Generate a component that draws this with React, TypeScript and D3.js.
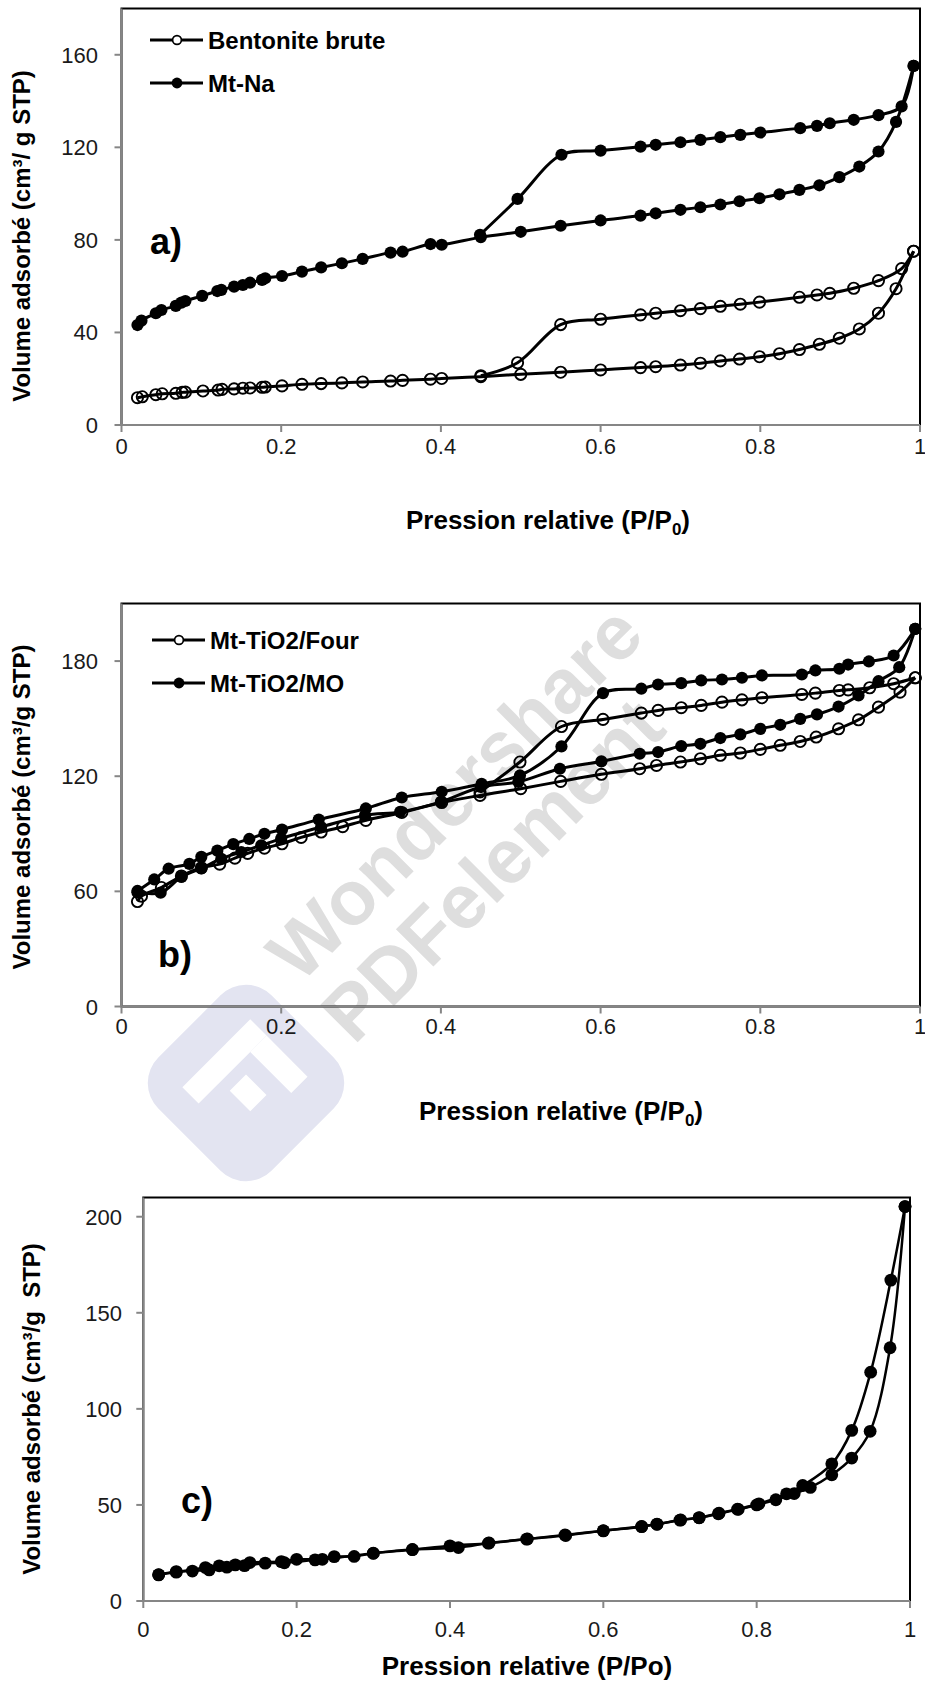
import React from 'react';
import * as d3 from 'd3';

type Pt = [number, number];

// ---------- tick values / labels ----------
const xTickValues = [0, 0.2, 0.4, 0.6, 0.8, 1];
const xTickLabels = ['0', '0.2', '0.4', '0.6', '0.8', '1'];
const yTicksA = [0, 40, 80, 120, 160];
const yTicksB = [0, 60, 120, 180];
const yTicksC = [0, 50, 100, 150, 200];

// ---------- panel a ----------
const bentoniteAds: Pt[] = [
  [0.020, 11.8], [0.026, 12.2], [0.043, 13.1], [0.051, 13.5], [0.068, 13.7], [0.076, 14.1], [0.080, 14.2],
  [0.102, 14.7], [0.121, 15.1], [0.126, 15.4], [0.141, 15.6], [0.152, 15.9], [0.161, 16.0], [0.176, 16.3],
  [0.180, 16.4], [0.201, 16.9], [0.226, 17.6], [0.250, 17.9], [0.276, 18.2], [0.302, 18.6], [0.337, 19.0],
  [0.352, 19.3], [0.387, 19.8], [0.401, 20.1], [0.450, 20.9], [0.500, 21.9], [0.550, 22.8], [0.600, 23.8],
  [0.650, 24.8], [0.669, 25.2], [0.700, 25.9], [0.725, 26.7], [0.750, 27.7], [0.774, 28.5], [0.799, 29.5],
  [0.824, 30.8], [0.849, 32.6], [0.874, 34.9], [0.899, 37.5], [0.924, 41.5], [0.948, 48.3], [0.970, 58.9],
  [0.992, 75.1],
];
const bentoniteDes: Pt[] = [
  [0.992, 75.1], [0.977, 67.6], [0.948, 62.4], [0.917, 59.1], [0.887, 56.9], [0.871, 56.2], [0.849, 55.2],
  [0.799, 53.1], [0.775, 52.2], [0.750, 51.3], [0.725, 50.3], [0.700, 49.4], [0.669, 48.3], [0.650, 47.6],
  [0.600, 45.7], [0.550, 43.4], [0.496, 26.9], [0.450, 21.3],
];
const mtNaAds: Pt[] = [
  [0.020, 43.2], [0.025, 45.1], [0.043, 48.3], [0.050, 49.7], [0.068, 51.5], [0.075, 52.9], [0.080, 53.6],
  [0.101, 55.8], [0.120, 57.9], [0.125, 58.4], [0.141, 59.8], [0.152, 60.5], [0.161, 61.5], [0.176, 62.7],
  [0.180, 63.4], [0.201, 64.4], [0.226, 66.3], [0.250, 68.1], [0.276, 69.9], [0.302, 71.8], [0.337, 74.5],
  [0.352, 74.9], [0.387, 78.2], [0.401, 77.9], [0.450, 81.2], [0.500, 83.5], [0.550, 86.1], [0.600, 88.4],
  [0.650, 90.5], [0.669, 91.5], [0.700, 93.0], [0.725, 94.1], [0.750, 95.3], [0.774, 96.7], [0.799, 98.0],
  [0.824, 99.7], [0.849, 101.6], [0.874, 103.6], [0.899, 107.1], [0.924, 111.7], [0.948, 118.2], [0.970, 131.0],
  [0.992, 155.2],
];
const mtNaDes: Pt[] = [
  [0.992, 155.2], [0.977, 137.7], [0.948, 133.9], [0.917, 131.9], [0.887, 130.4], [0.871, 129.3], [0.850, 128.3],
  [0.800, 126.4], [0.775, 125.4], [0.750, 124.4], [0.725, 123.2], [0.700, 122.2], [0.669, 121.1], [0.650, 120.3],
  [0.600, 118.6], [0.551, 116.8], [0.496, 97.7], [0.449, 82.2],
];

// ---------- panel b ----------
const fourAds: Pt[] = [
  [0.020, 54.7], [0.025, 57.5], [0.050, 62.0], [0.075, 68.0], [0.100, 72.3], [0.123, 74.2], [0.142, 77.3],
  [0.158, 79.8], [0.179, 82.5], [0.201, 84.8], [0.225, 88.1], [0.250, 90.9], [0.277, 93.7], [0.306, 97.0],
  [0.351, 101.1], [0.401, 106.3], [0.449, 110.0], [0.500, 113.5], [0.550, 117.3], [0.601, 121.0], [0.649, 123.9],
  [0.670, 125.6], [0.700, 127.4], [0.725, 129.1], [0.750, 130.9], [0.775, 132.1], [0.800, 134.0], [0.825, 136.1],
  [0.850, 138.1], [0.870, 140.4], [0.898, 144.7], [0.923, 149.4], [0.948, 156.0], [0.975, 163.8], [0.994, 171.3],
];
const fourDes: Pt[] = [
  [0.994, 171.3], [0.967, 168.2], [0.937, 166.1], [0.910, 165.0], [0.899, 164.7], [0.869, 163.3], [0.852, 162.6],
  [0.802, 160.9], [0.777, 159.8], [0.752, 158.6], [0.726, 156.9], [0.701, 155.7], [0.672, 154.3], [0.651, 152.9],
  [0.603, 149.6], [0.551, 145.9], [0.499, 127.4], [0.449, 111.8],
];
const moAds: Pt[] = [
  [0.020, 59.5], [0.049, 59.3], [0.075, 67.5], [0.100, 72.0], [0.125, 77.0], [0.150, 80.5], [0.175, 84.0],
  [0.200, 87.5], [0.250, 93.5], [0.305, 99.6], [0.349, 101.4], [0.400, 106.6], [0.450, 114.4], [0.497, 117.0],
  [0.549, 123.9], [0.601, 127.7], [0.649, 131.7], [0.672, 132.6], [0.701, 135.7], [0.725, 136.9], [0.750, 139.9],
  [0.775, 141.8], [0.800, 144.7], [0.825, 146.8], [0.850, 149.9], [0.871, 152.2], [0.898, 156.3], [0.923, 162.1],
  [0.948, 169.5], [0.974, 176.8], [0.994, 196.8],
];
const moDes: Pt[] = [
  [0.994, 196.8], [0.967, 182.9], [0.936, 179.8], [0.910, 178.2], [0.899, 176.0], [0.869, 175.1], [0.852, 173.0],
  [0.802, 172.5], [0.777, 171.3], [0.752, 170.4], [0.726, 169.9], [0.701, 168.5], [0.672, 167.8], [0.651, 165.6],
  [0.603, 163.3], [0.551, 135.5], [0.499, 120.4], [0.451, 116.0], [0.401, 111.9], [0.351, 108.9], [0.306, 103.2],
  [0.247, 97.4], [0.201, 92.2], [0.179, 90.0], [0.160, 87.3], [0.140, 84.6], [0.120, 81.2], [0.100, 78.0],
  [0.085, 74.3], [0.059, 71.8], [0.041, 66.2], [0.020, 60.2],
];

// ---------- panel c ----------
const cAds: Pt[] = [
  [0.020, 13.6], [0.043, 15.3], [0.064, 15.6], [0.086, 16.2], [0.109, 17.6], [0.132, 18.4], [0.159, 19.7],
  [0.184, 19.9], [0.224, 21.4], [0.249, 23.1], [0.275, 23.2], [0.300, 24.8], [0.351, 26.7], [0.400, 28.7],
  [0.450, 30.1], [0.500, 32.2], [0.550, 34.4], [0.600, 36.6], [0.650, 38.8], [0.670, 39.9], [0.700, 42.1],
  [0.725, 43.3], [0.750, 45.4], [0.776, 47.7], [0.800, 50.0], [0.825, 52.7], [0.849, 55.9], [0.870, 59.1],
  [0.898, 65.7], [0.924, 74.4], [0.948, 88.3], [0.974, 131.8], [0.9935, 205.3],
];
const cDes: Pt[] = [
  [0.9935, 205.3], [0.975, 167.0], [0.9487, 119.1], [0.924, 88.8], [0.898, 71.4], [0.860, 60.1], [0.839, 55.8],
  [0.803, 50.6], [0.775, 47.8], [0.751, 45.7], [0.725, 43.4], [0.701, 42.2], [0.670, 40.0], [0.650, 38.7],
  [0.600, 36.5], [0.551, 34.1], [0.501, 32.3], [0.451, 30.2], [0.411, 27.8], [0.351, 26.8], [0.300, 24.9],
  [0.2335, 21.7], [0.200, 21.7], [0.180, 20.5], [0.139, 20.0], [0.120, 18.8], [0.099, 18.3], [0.081, 17.4],
  [0.043, 15.0], [0.020, 13.7],
];

const FONT = '"Liberation Sans", Arial, Helvetica, sans-serif';

interface Series { ads: Pt[]; des: Pt[]; open: boolean; }
interface PanelProps {
  x0: number; x1: number; y0: number; y1: number; yMax: number; yTicks: number[];
  series: Series[]; lineW: number; r: number; yLabelX: number; xLabelY: number;
}

function Panel(p: PanelProps) {
  const x = d3.scaleLinear().domain([0, 1]).range([p.x0, p.x1]);
  const y = d3.scaleLinear().domain([0, p.yMax]).range([p.y1, p.y0]);
  const line = d3.line<Pt>().x(d => x(d[0])).y(d => y(d[1])).curve(d3.curveCatmullRom.alpha(0.5));
  const axisColor = '#868686';
  return (
    <g>
      <rect x={p.x0} y={p.y0} width={p.x1 - p.x0} height={p.y1 - p.y0} fill="none" stroke="#000" strokeWidth={2} />
      <line x1={p.x0} x2={p.x0} y1={p.y0} y2={p.y1} stroke={axisColor} strokeWidth={2} />
      <line x1={p.x0} x2={p.x1} y1={p.y1} y2={p.y1} stroke={axisColor} strokeWidth={2} />
      {p.yTicks.map(t => (
        <g key={'y' + t}>
          <line x1={p.x0 - 7} x2={p.x0} y1={y(t)} y2={y(t)} stroke={axisColor} strokeWidth={2} />
          <text x={p.yLabelX} y={y(t) + 8} textAnchor="end" fontSize={22} fill="#1a1a1a" fontFamily={FONT}>{t}</text>
        </g>
      ))}
      {xTickValues.map((t, i) => (
        <g key={'x' + t}>
          <line x1={x(t)} x2={x(t)} y1={p.y1} y2={p.y1 + 7} stroke={axisColor} strokeWidth={2} />
          <text x={x(t)} y={p.xLabelY} textAnchor="middle" fontSize={22} fill="#1a1a1a" fontFamily={FONT}>{xTickLabels[i]}</text>
        </g>
      ))}
      {p.series.map((s, si) => (
        <g key={'s' + si}>
          <path d={line(s.ads) || ''} fill="none" stroke="#000" strokeWidth={p.lineW} />
          <path d={line(s.des) || ''} fill="none" stroke="#000" strokeWidth={p.lineW} />
          {s.ads.concat(s.des).map((d, i) => (
            s.open
              ? <circle key={i} cx={x(d[0])} cy={y(d[1])} r={p.r - 0.5} fill="none" stroke="#000" strokeWidth={1.9} />
              : <circle key={i} cx={x(d[0])} cy={y(d[1])} r={p.r} fill="#000" />
          ))}
        </g>
      ))}
    </g>
  );
}

function Legend({ x, y, label, open }: { x: number; y: number; label: string; open: boolean }) {
  return (
    <g>
      <line x1={x} x2={x + 53} y1={y} y2={y} stroke="#000" strokeWidth={3} />
      {open
        ? <circle cx={x + 27} cy={y} r={4.4} fill="#fff" stroke="#000" strokeWidth={1.7} />
        : <circle cx={x + 27} cy={y} r={5.4} fill="#000" />}
      <text x={x + 58} y={y + 8.5} fontSize={24} fontWeight="bold" fontFamily={FONT} fill="#000">{label}</text>
    </g>
  );
}

function XTitle({ cx, y, sub }: { cx: number; y: number; sub: boolean }) {
  return sub ? (
    <text x={cx} y={y} textAnchor="middle" fontSize={26} fontWeight="bold" fontFamily={FONT} fill="#000">
      Pression relative (P/P<tspan fontSize={17} dy={6}>0</tspan><tspan dy={-6}>)</tspan>
    </text>
  ) : (
    <text x={cx} y={y} textAnchor="middle" fontSize={26} fontWeight="bold" fontFamily={FONT} fill="#000">Pression relative (P/Po)</text>
  );
}

function YTitle({ x, cy, label }: { x: number; cy: number; label: string }) {
  return (
    <text transform={`translate(${x},${cy}) rotate(-90)`} textAnchor="middle" fontSize={24} fontWeight="bold"
      fontFamily={FONT} fill="#000" style={{ whiteSpace: 'pre' }}>{label}</text>
  );
}

function Watermark() {
  return (
    <g>
      <g transform="translate(246,1083) rotate(45)">
        <rect x={-80} y={-80} width={160} height={160} rx={36} fill="#e3e4f1" />
        <rect x={-42} y={-48} width={23} height={96} fill="#fff" />
        <rect x={-19} y={-48} width={58} height={23} fill="#fff" />
        <rect x={-6} y={-6} width={29} height={23} fill="#fff" />
      </g>
      <text transform="translate(300,985) rotate(-45)" fontSize={77} fontWeight="bold" fontFamily={FONT} fill="#dedede">Wondershare</text>
      <text transform="translate(354,1046) rotate(-45)" fontSize={77} fontWeight="bold" fontFamily={FONT} fill="#dedede">PDFelement</text>
    </g>
  );
}

export default function App() {
  return (
    <>
      <style>{`body{margin:0}`}</style>
      <svg width={925} height={1684} viewBox="0 0 925 1684" style={{ display: 'block', background: '#fff' }}>
        <rect x={0} y={0} width={925} height={1684} fill="#fff" />
        <Watermark />

        {/* Panel a */}
        <Panel x0={121.5} x1={920} y0={8.5} y1={425} yMax={180} yTicks={yTicksA}
          series={[{ ads: bentoniteAds, des: bentoniteDes, open: true }, { ads: mtNaAds, des: mtNaDes, open: false }]}
          lineW={3} r={6.1} yLabelX={98} xLabelY={454} />
        <Legend x={150} y={40} label="Bentonite brute" open={true} />
        <Legend x={150} y={83} label="Mt-Na" open={false} />
        <text x={150} y={254} fontSize={36} fontWeight="bold" fontFamily={FONT}>a)</text>
        <XTitle cx={548} y={529} sub={true} />
        <YTitle x={30} cy={236} label="Volume adsorbé (cm³/ g STP)" />

        {/* Panel b */}
        <Panel x0={121.5} x1={920} y0={603.5} y1={1006.5} yMax={210} yTicks={yTicksB}
          series={[{ ads: fourAds, des: fourDes, open: true }, { ads: moAds, des: moDes, open: false }]}
          lineW={3} r={6.1} yLabelX={98} xLabelY={1034} />
        <Legend x={152} y={640} label="Mt-TiO2/Four" open={true} />
        <Legend x={152} y={683} label="Mt-TiO2/MO" open={false} />
        <text x={158} y={967} fontSize={36} fontWeight="bold" fontFamily={FONT}>b)</text>
        <XTitle cx={561} y={1120} sub={true} />
        <YTitle x={30} cy={807} label="Volume adsorbé (cm³/g STP)" />

        {/* Panel c */}
        <Panel x0={143.3} x1={910} y0={1197.5} y1={1601} yMax={210} yTicks={yTicksC}
          series={[{ ads: cAds, des: cDes, open: false }]}
          lineW={2.5} r={6.4} yLabelX={122} xLabelY={1637} />
        <text x={181} y={1513} fontSize={36} fontWeight="bold" fontFamily={FONT}>c)</text>
        <XTitle cx={527} y={1675} sub={false} />
        <YTitle x={40} cy={1409} label="Volume adsorbé (cm³/g  STP)" />
      </svg>
    </>
  );
}
